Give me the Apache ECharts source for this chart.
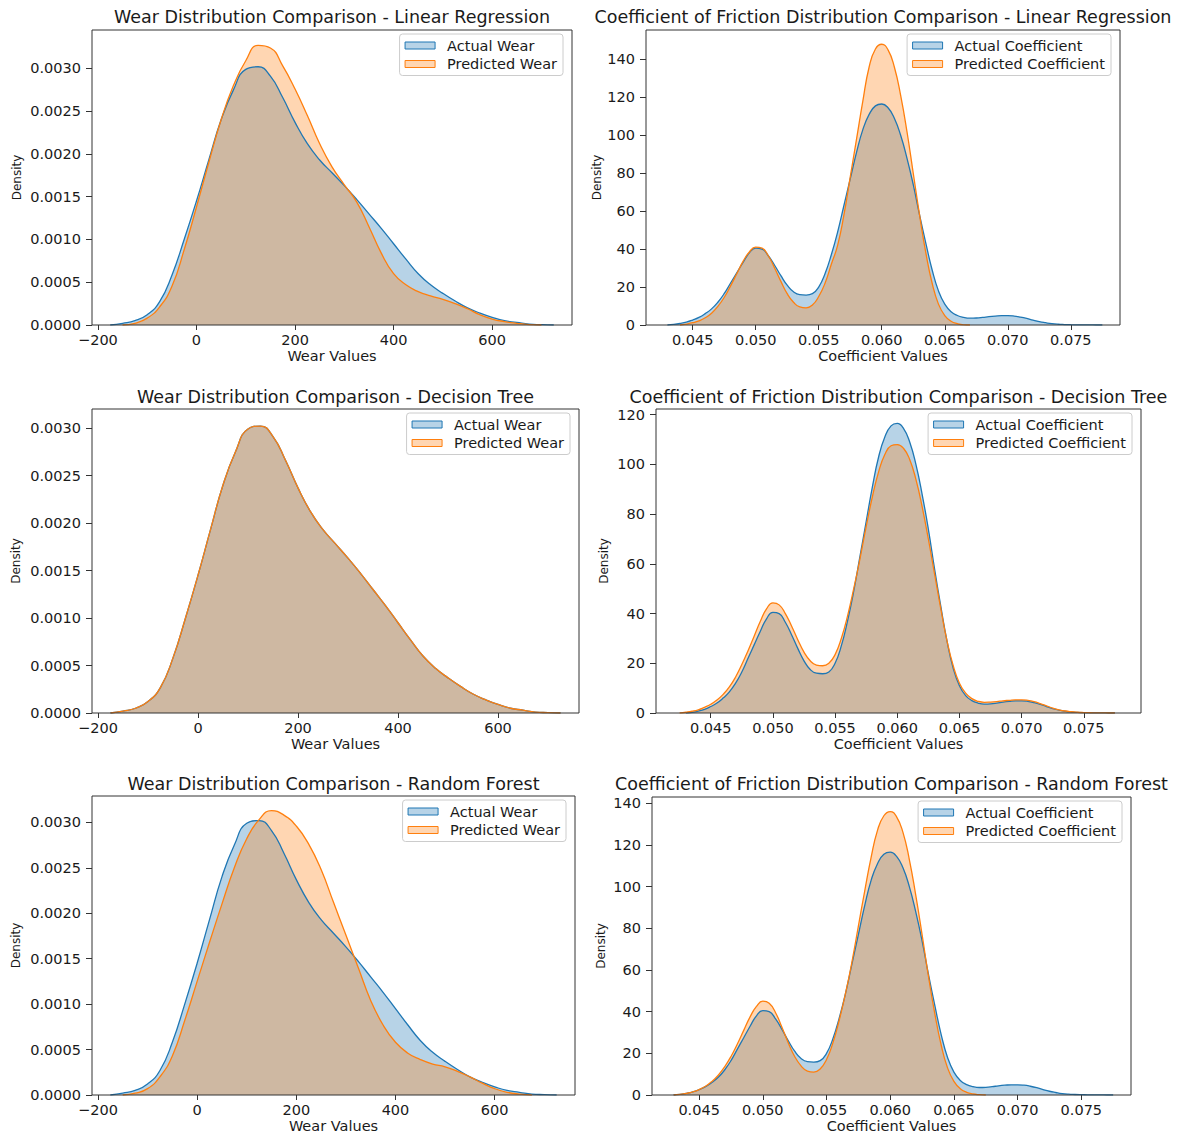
<!DOCTYPE html>
<html><head><meta charset="utf-8">
<script src="https://cdn.jsdelivr.net/npm/echarts@6/dist/echarts.min.js"></script>
<style>html,body{margin:0;padding:0;background:#fff;}#c{width:1186px;height:1134px;}</style>
</head><body><div id="c"></div>
<script>
// ---------- data ----------
const wearX = [-175,-150,-125,-100,-75,-50,-25,0,25,50,75,100,125,150,175,200,225,250,275,300,325,350,375,400,425,450,475,500,525,550,575,600,625,650,675,700,725];
const wearActual = [0,0.00002,0.00005,0.00012,0.00027,0.00058,0.001,0.00145,0.00193,0.0024,0.00275,0.00299,0.00302,0.00291,0.00266,0.00237,0.00212,0.00193,0.00178,0.00163,0.00147,0.0013,0.00113,0.00095,0.00077,0.0006,0.00047,0.00037,0.00028,0.0002,0.00014,0.00009,0.00005,0.00003,0.00001,0.000004,0];
const wearPredLR = [null,0,0.00002,0.00008,0.00021,0.00045,0.00088,0.00138,0.0019,0.0024,0.0028,0.00309,0.00327,0.00324,0.00303,0.00276,0.00245,0.00212,0.00185,0.00164,0.00144,0.00115,0.00084,0.0006,0.00047,0.00039,0.00034,0.0003,0.00025,0.00019,0.00012,0.00007,0.00004,0.00002,0.000005,0,null];
const wearPredDT = [0,0.00002,0.00005,0.00012,0.00027,0.00058,0.001,0.00145,0.00193,0.0024,0.00275,0.00299,0.00302,0.00291,0.00266,0.00237,0.00212,0.00193,0.00178,0.00163,0.00147,0.0013,0.00113,0.00095,0.00077,0.0006,0.00047,0.00037,0.00028,0.0002,0.00014,0.00009,0.00005,0.00003,0.00001,0.000004,0];
const wearPredRF = [null,0,0.00002,0.00007,0.0002,0.00043,0.00082,0.00125,0.00168,0.0021,0.0025,0.00282,0.00303,0.00313,0.00308,0.00296,0.00276,0.00248,0.00212,0.00176,0.0014,0.00104,0.00077,0.00058,0.00046,0.00039,0.00034,0.00031,0.00026,0.0002,0.00013,0.00007,0.00003,0.00001,0,null,null];

const coefX = [0.0425,0.043,0.0435,0.044,0.0445,0.045,0.0455,0.046,0.0465,0.047,0.0475,0.048,0.0485,0.049,0.0495,0.05,0.0505,0.051,0.0515,0.052,0.0525,0.053,0.0535,0.054,0.0545,0.055,0.0555,0.056,0.0565,0.057,0.0575,0.058,0.0585,0.059,0.0595,0.06,0.0605,0.061,0.0615,0.062,0.0625,0.063,0.0635,0.064,0.0645,0.065,0.0655,0.066,0.0665,0.067,0.0675,0.068,0.0685,0.069,0.0695,0.07,0.0705,0.071,0.0715,0.072,0.0725,0.073,0.0735,0.074,0.0745,0.075,0.0755,0.076,0.0765,0.077,0.0775,0.078];
const coefActual = [null,0,0.3,0.8,1.5,2.6,4,6,8.5,12,16.5,22,27.5,33,38,40.5,40,36.5,31.5,26,21,17.5,16,15.8,16.5,20,27,37,49,63,77,91,103,111,115.5,116.5,114.5,109,100,88,74,58,43,29,18,11,7,5,4,3.6,3.7,4,4.4,4.7,4.9,4.9,4.7,4.2,3.5,2.6,1.8,1.2,0.7,0.4,0.25,0.15,0.08,0.04,0.02,0.01,0,null];
const coefPredLR = [null,null,null,0,0.5,1.2,2.2,3.8,6.2,9.8,14.5,20.5,27,33.5,38.5,41,40.5,36.5,30,23,16.5,12,9.5,9,10.5,15,22,32,42,58,78,98,118,136,145.5,148,145,136,121,102,80,58,38,22,11,5,2,0.7,0.1,0,null,null,null,null,null,null,null,null,null,null,null,null,null,null,null,null,null,null,null,null,null,null];
const coefPredDT = [0,0.3,0.7,1.3,2.3,3.5,5.2,7.5,10.5,14.5,19.5,25,31,37,42,44.3,43.5,40,35,29.5,24.5,21,19.3,19,20,23.5,30,39,50,62,75,87,97,104,107.5,108,106.5,102,94,83,70,56,42,29,19,12,8,5.8,4.7,4.3,4.4,4.6,4.9,5.1,5.3,5.3,5.1,4.6,3.8,2.9,2,1.3,0.8,0.5,0.3,0.18,0.1,0.05,0.02,0.01,0,null];
const coefPredRF = [null,0,0.3,0.8,1.5,2.6,4.2,6.5,9.5,13.5,18.5,24.5,31,37.5,42.5,45,44,39.5,32.5,25,18.5,14,11.5,11,12.5,17,25,36,49,64,81,98,114,127,134,136,133.5,126,113,96,77,57,39,24,13,6.5,3,1.3,0.5,0.15,0,null,null,null,null,null,null,null,null,null,null,null,null,null,null,null,null,null,null,null,null,null];

const models = ['Linear Regression', 'Decision Tree', 'Random Forest'];
const wearTicksX = [-200, 0, 200, 400, 600];
const wearTicksY = [0, 0.0005, 0.001, 0.0015, 0.002, 0.0025, 0.003];
const coefTicksX = [0.045, 0.05, 0.055, 0.06, 0.065, 0.07, 0.075];
const coefTicksY140 = [0, 20, 40, 60, 80, 100, 120, 140];
const coefTicksY120 = [0, 20, 40, 60, 80, 100, 120];

// ---------- style / layout ----------
const FONT = 'DejaVu Sans';
const BLUE = '#1f77b4', ORANGE = '#ff7f0e';
const FILL_ALPHA = 0.32;
const W = 1186;

const panels = [
  {kind:'wear', m:0, g:{left:92, top:30, width:480, height:295}, xr:[-212,762], ymax:0.00345, pred:wearPredLR, yt:wearTicksY, ty:8, dgap:69},
  {kind:'coef', m:0, g:{left:646, top:30, width:474, height:295}, xr:[0.0413,0.0789], ymax:155.5, pred:coefPredLR, yt:coefTicksY140, ty:8, dgap:43},
  {kind:'wear', m:1, g:{left:92, top:409, width:487, height:304}, xr:[-212,762], ymax:0.0032, pred:wearPredDT, yt:wearTicksY, ty:388, dgap:70},
  {kind:'coef', m:1, g:{left:656, top:409, width:485, height:304}, xr:[0.0406,0.0796], ymax:122.3, pred:coefPredDT, yt:coefTicksY120, ty:388, dgap:46},
  {kind:'wear', m:2, g:{left:92, top:796, width:483, height:299}, xr:[-212,762], ymax:0.00329, pred:wearPredRF, yt:wearTicksY, ty:775, dgap:70},
  {kind:'coef', m:2, g:{left:652, top:797, width:479, height:298}, xr:[0.0413,0.0789], ymax:143, pred:coefPredRF, yt:coefTicksY140, ty:775, dgap:45}
];

const zip = (xs, ys) => xs.map((x, i) => [x, ys[i]]);
const txt = (size) => ({fontFamily: FONT, fontSize: size, color: '#1a1a1a'});

const grids = [], xAxes = [], yAxes = [], series = [], titles = [], legends = [];
panels.forEach((p, i) => {
  const isWear = p.kind === 'wear';
  const xs = isWear ? wearX : coefX;
  const act = isWear ? wearActual : coefActual;
  const aName = isWear ? 'Actual Wear' : 'Actual Coefficient';
  const pName = isWear ? 'Predicted Wear' : 'Predicted Coefficient';
  const gRight = p.g.left + p.g.width;
  grids.push(Object.assign({show: true, borderColor: '#333', borderWidth: 1, z: 10, backgroundColor: 'transparent'}, p.g));
  xAxes.push({
    type: 'value', gridIndex: i, min: p.xr[0], max: p.xr[1],
    name: isWear ? 'Wear Values' : 'Coefficient Values', nameLocation: 'middle', nameGap: 23,
    nameTextStyle: txt(14.5),
    axisLine: {show: false, onZero: false}, splitLine: {show: false},
    axisTick: {show: true, length: 5, lineStyle: {color: '#333', width: 1}, customValues: isWear ? wearTicksX : coefTicksX},
    axisLabel: Object.assign({customValues: isWear ? wearTicksX : coefTicksX, margin: 7,
      formatter: v => isWear ? (v < 0 ? '\u2212' + Math.abs(v) : String(v)) : v.toFixed(3)}, txt(14.5))
  });
  yAxes.push({
    type: 'value', gridIndex: i, min: 0, max: p.ymax,
    name: 'Density', nameLocation: 'middle', nameGap: p.dgap, nameTextStyle: txt(12),
    axisLine: {show: false, onZero: false}, splitLine: {show: false},
    axisTick: {show: true, length: 6, lineStyle: {color: '#333', width: 1}, customValues: p.yt},
    axisLabel: Object.assign({customValues: p.yt, margin: 11,
      formatter: v => isWear ? v.toFixed(4) : String(Math.round(v))}, txt(14.5))
  });
  const mk = (name, data, col) => ({
    type: 'line', name, xAxisIndex: i, yAxisIndex: i, data: zip(xs, data),
    smooth: 0.5, symbol: 'none', silent: true, connectNulls: false,
    lineStyle: {color: col, width: 1.3}, itemStyle: {color: col},
    areaStyle: {color: col, opacity: FILL_ALPHA, origin: 'start'}
  });
  series.push(mk(aName, act, BLUE));
  series.push(mk(pName, p.pred, ORANGE));
  titles.push({
    text: (isWear ? 'Wear Distribution Comparison - ' : 'Coefficient of Friction Distribution Comparison - ') + models[p.m],
    left: p.g.left + p.g.width / 2, top: p.ty, textAlign: 'center', textVerticalAlign: 'top', padding: 0,
    textStyle: Object.assign({fontWeight: 'normal'}, txt(17.5))
  });
  legends.push({
    orient: 'vertical', right: W - (gRight - 9), top: p.g.top + 4,
    icon: 'rect', itemWidth: 30, itemHeight: 7, itemGap: 3.5, selectedMode: false,
    padding: [4, 6, 4, 5], borderColor: '#cccccc', borderWidth: 1, borderRadius: 3,
    backgroundColor: 'rgba(255,255,255,0.8)',
    textStyle: Object.assign({padding: [0, 0, 0, 7]}, txt(14.5)),
    data: [
      {name: aName, itemStyle: {color: 'rgba(31,119,180,' + FILL_ALPHA + ')', borderColor: BLUE, borderWidth: 1}},
      {name: pName, itemStyle: {color: 'rgba(255,127,14,' + FILL_ALPHA + ')', borderColor: ORANGE, borderWidth: 1}}
    ]
  });
});

const chart = echarts.init(document.getElementById('c'), null, {renderer: 'svg'});
chart.setOption({
  animation: false, backgroundColor: '#fff',
  title: titles, legend: legends, grid: grids, xAxis: xAxes, yAxis: yAxes, series: series
});
</script>
</body></html>
